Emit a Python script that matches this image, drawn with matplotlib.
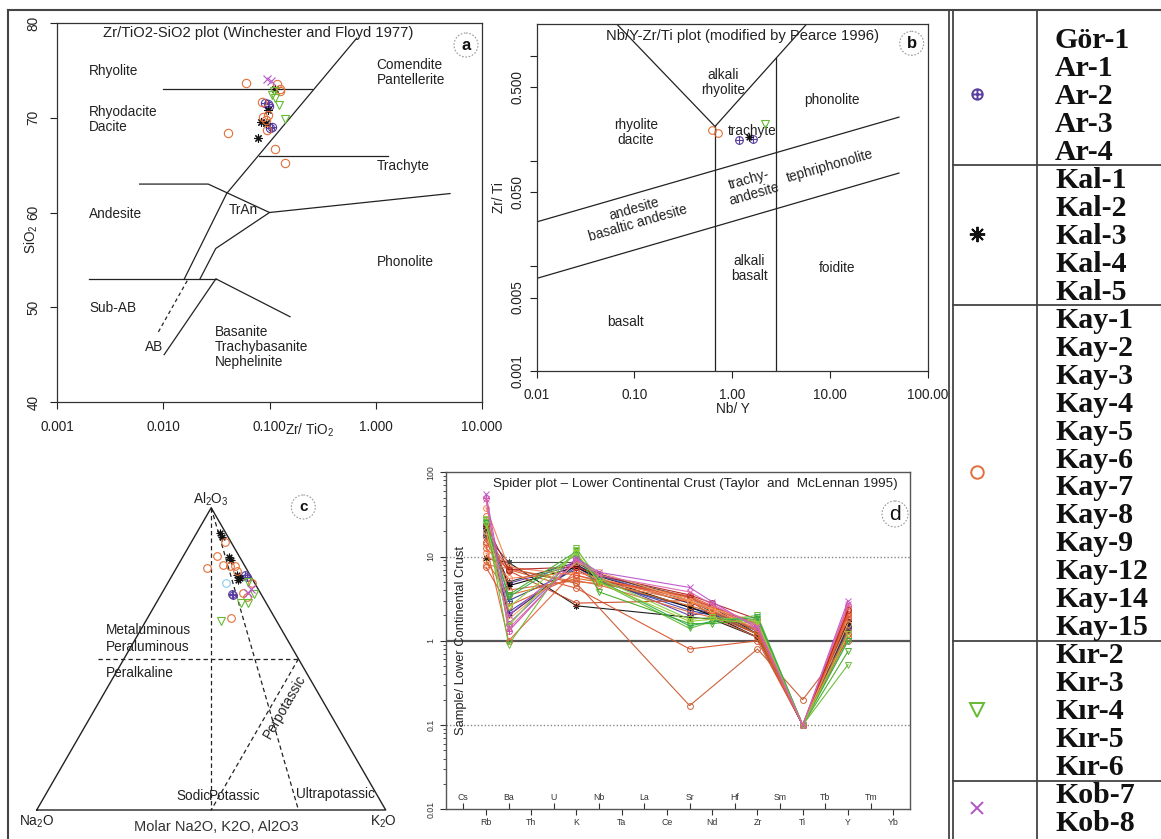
import numpy as np
import matplotlib
matplotlib.use('Agg')
import matplotlib.pyplot as plt
from matplotlib.path import Path
from matplotlib.patches import Circle
from matplotlib.ticker import LogLocator, NullFormatter, FixedLocator
import matplotlib.transforms as mtrans

plt.rcParams['font.family'] = ['Liberation Sans', 'DejaVu Sans']
plt.rcParams['mathtext.default'] = 'regular'

# ---------------- data ----------------
groups = ['Ar', 'Kal', 'Kay', 'Kir', 'Kob']
group_labels = {
    'Ar': ['Gör-1', 'Ar-1', 'Ar-2', 'Ar-3', 'Ar-4'],
    'Kal': ['Kal-1', 'Kal-2', 'Kal-3', 'Kal-4', 'Kal-5'],
    'Kay': ['Kay-1', 'Kay-2', 'Kay-3', 'Kay-4', 'Kay-5', 'Kay-6', 'Kay-7', 'Kay-8',
            'Kay-9', 'Kay-12', 'Kay-14', 'Kay-15'],
    'Kir': ['Kır-2', 'Kır-3', 'Kır-4', 'Kır-5', 'Kır-6'],
    'Kob': ['Kob-7', 'Kob-8'],
}

# Panel a : Zr/TiO2 vs SiO2
a_zrti = {
    'Ar': [0.0907, 0.0989, 0.101, 0.096, 0.105],
    'Kal': [0.1127, 0.0975, 0.0832, 0.0927, 0.0785],
    'Kay': [0.0597, 0.117, 0.1256, 0.0845, 0.0874, 0.0927, 0.094, 0.1127, 0.14, 0.0405, 0.097, 0.125],
    'Kir': [0.105, 0.1127, 0.1228, 0.14, 0.11],
    'Kob': [0.0953, 0.1026],
}
a_sio2 = {
    'Ar': [71.56, 71.2, 68.9, 71.4, 69.0],
    'Kal': [73.0, 70.8, 69.6, 69.4, 67.9],
    'Kay': [73.7, 73.6, 72.85, 71.7, 70.1, 69.76, 68.7, 66.7, 65.2, 68.4, 70.3, 73.0],
    'Kir': [72.4, 72.05, 71.35, 69.9, 72.8],
    'Kob': [74.06, 73.9],
}

# Panel b : Nb/Y vs Zr/Ti
b_nby = {'Ar': [1.64, 1.18], 'Kal': [1.47], 'Kay': [0.616, 0.72], 'Kir': [2.17], 'Kob': []}
b_zrti = {'Ar': [0.162, 0.158], 'Kal': [0.17], 'Kay': [0.197, 0.183], 'Kir': [0.225], 'Kob': []}

# Panel c : molar Na2O, K2O, Al2O3 (%)
c_na = {
    'Ar': [1.5, 1.0, 8.3, 8.2],
    'Kal': [1.7, 1.9, 2.9, 3.1, 3.9, 4.4, 3.4],
    'Kay': [1.6, 6.2, 6.1, 11.0, 2.9, 2.9, 4.3, 0.9, 4.9, 4.3, 12.6],
    'Kir': [2.1, 7.2, 5.2, 15.9, 1.8],
    'Kob': [2.2, 3.5],
}
c_k = {
    'Ar': [20.8, 21.8, 20.2, 20.7],
    'Kal': [6.7, 7.9, 13.3, 14.2, 18.4, 19.5, 20.0],
    'Kay': [9.6, 9.8, 12.8, 8.8, 16.4, 17.9, 15.0, 24.1, 23.4, 25.1, 24.0],
    'Kir': [26.4, 24.2, 26.4, 21.5, 22.6],
    'Kob': [24.8, 24.6],
}
c_al = {
    'Ar': [77.7, 77.2, 71.5, 71.1],
    'Kal': [91.6, 90.2, 83.8, 82.7, 77.7, 76.1, 76.6],
    'Kay': [88.8, 84.0, 81.1, 80.2, 80.7, 79.2, 80.7, 75.0, 71.7, 70.6, 63.4],
    'Kir': [71.5, 68.6, 68.4, 62.6, 75.5],
    'Kob': [73.0, 71.9],
}
c_extra = (8.4, 16.6, 75.0)   # light-blue circle

# Panel d : spider diagram (normalised to lower continental crust)
spider_order = ['Cs', 'Rb', 'Ba', 'Th', 'U', 'K', 'Nb', 'Ta', 'La', 'Ce', 'Sr', 'Nd',
                'Hf', 'Zr', 'Sm', 'Ti', 'Tb', 'Y', 'Tm', 'Yb']
spider_elems = ['Rb', 'Ba', 'K', 'Nb', 'Sr', 'Nd', 'Zr', 'Ti', 'Y']
nan = np.nan
spider_vals = {
    'Ar': [[20, 4.8, 8.0, 5.5, 2.0, 2.2, 1.3, 0.1, 1.5],
           [22, 2.2, 7.5, 5.2, 2.3, 2.0, 1.4, 0.1, 1.6],
           [25, 1.6, 9.0, 6.0, 2.8, 2.4, 1.6, 0.1, 1.8],
           [18, 3.0, 7.0, 5.0, 2.5, 2.1, 1.2, 0.1, 1.4],
           [50, 1.3, 9.5, 6.2, 3.0, 2.6, 1.5, 0.1, 2.6]],
    'Kal': [[9.5, 8.5, 2.6, nan, 1.9, 1.8, 1.1, 0.1, 1.7],
            [20, 5.0, 8.5, 6.0, 3.3, 2.3, 1.3, 0.1, 1.6],
            [22, 2.0, 8.0, 5.8, 2.8, 2.5, 1.2, 0.1, 1.5],
            [18, 8.5, 8.5, 6.2, 3.0, 2.2, 1.2, 0.1, 1.3],
            [23, 4.5, 7.5, 5.5, 2.5, 2.0, 1.1, 0.1, 1.7]],
    'Kay': [[8.0, 7.2, 5.0, 4.8, 3.0, 2.3, 1.3, 0.1, 2.2],
            [12.5, 7.0, 4.2, nan, 0.8, nan, 1.0, 0.1, 1.8],
            [38, 7.5, 6.0, 5.0, 3.2, 2.4, 1.5, 0.1, 2.0],
            [15, 6.8, 2.8, nan, 3.0, 2.0, 1.2, 0.1, 1.2],
            [14, 1.0, 7.0, 5.3, 3.4, 2.6, 1.3, 0.1, 1.9],
            [9, 3.5, 5.5, 5.0, 2.6, 2.2, 1.2, 0.1, 1.1],
            [11, 5.5, 6.5, 5.5, 2.9, 2.3, 1.4, 0.1, 2.4],
            [17, 7.2, 4.8, nan, 0.17, nan, 0.8, 0.2, 1.0],
            [7.5, 2.6, 6.0, 5.2, 3.3, 2.5, 1.6, 0.1, 2.1],
            [24, 7.0, 7.5, 6.0, 3.5, 2.8, 1.8, 0.1, 2.3],
            [20, 1.8, 8.5, 6.5, 3.0, 2.4, 1.7, 0.1, 1.6],
            [30, 4.0, 5.2, 4.6, 2.2, 1.9, 1.1, 0.1, 1.3]],
    'Kir': [[27, 0.9, 12.5, 5.0, 1.4, 1.7, 2.0, 0.1, 0.52],
            [26, 3.5, 11.5, 3.8, 1.6, 1.6, 1.8, 0.1, 0.75],
            [28, 1.5, 12.0, 5.5, 1.8, 1.9, 1.7, 0.1, 1.0],
            [25, 3.3, 10.5, 5.2, 1.5, 1.7, 1.9, 0.1, 1.0],
            [24, 2.5, 11.0, 4.9, 1.7, 1.8, 1.6, 0.1, 1.2]],
    'Kob': [[55, 2.0, 9.5, 6.5, 4.3, 2.9, 1.4, 0.1, 3.0],
            [48, 1.4, 9.0, 6.0, 3.8, 2.7, 1.5, 0.1, 2.7]],
}
spider_colors = {
    'Ar': ['#5B3FA0', '#3344AA', '#6A5ACD', '#2E3B8F', '#CC44AA'],
    'Kal': ['#111111', '#333333', '#222244', '#444444', '#000000'],
    'Kay': ['#E0703A', '#D9532B', '#F08050', '#CC4422', '#E8603A', '#D2691E',
            '#FF7F50', '#C85A30', '#E05030', '#B22222', '#F4A460', '#DD6644'],
    'Kir': ['#66BB33', '#44AA22', '#88CC44', '#33AA55', '#99CC33'],
    'Kob': ['#BB55CC', '#DD66AA'],
}

# ---------------- styles ----------------
oplus = Path.make_compound_path(Path.unit_circle(),
                                Path([[-1, 0], [1, 0]]), Path([[0, -1], [0, 1]]))
gstyle = {
    'Ar': dict(marker=oplus, color='#5B3FA0', tms=7.5),
    'Kal': dict(marker=(8, 2, 0), color='#111111', tms=11),
    'Kay': dict(marker='o', color='#E0703A', tms=9),
    'Kir': dict(marker='v', color='#66BB33', tms=9.5),
    'Kob': dict(marker='x', color='#B455C8', tms=8.5),
}

W, H = 1161, 839
fig = plt.figure(figsize=(W / 100, H / 100), dpi=100)


def px_axes(l, t, r, b, **kw):
    ax = fig.add_axes([l / W, 1 - b / H, (r - l) / W, (b - t) / H], **kw)
    ax.patch.set_alpha(0)
    return ax


def pts(ax, xs, ys, g, ms=6.0, mew=0.8):
    st = gstyle[g]
    ax.plot(xs, ys, ls='none', marker=st['marker'], ms=ms, mfc='none',
            mec=st['color'], mew=mew, zorder=5)


def style_axes(ax):
    for s in ax.spines.values():
        s.set_color('#333333')
        s.set_linewidth(0.9)


LINEC = '#222222'

# ---------------- panel a ----------------
ax_a = px_axes(57, 23, 482, 402)
ax_a.set_xscale('log')
ax_a.set_xlim(0.001, 10)
ax_a.set_ylim(40, 80)
style_axes(ax_a)
wf_lines = [
    ([0.01, 0.25], [73, 73]),
    ([0.0158, 0.0395, 0.662], [53, 62, 78.4]),
    ([0.002, 0.0313], [53, 53]),
    ([0.0102, 0.0313, 0.156], [45, 53, 49]),
    ([0.0222, 0.0312, 0.1], [53, 56.2, 60]),
    ([0.006, 0.0265, 0.1, 5.0], [63, 63, 60, 62]),
    ([0.08, 1.3], [66, 66]),
]
for xs, ys in wf_lines:
    ax_a.plot(xs, ys, color=LINEC, lw=0.9)
ax_a.plot([0.009, 0.0172], [47.4, 53], color=LINEC, lw=0.9, ls=(0, (3, 2.5)))
lab_fs = 9.8
for txt, x, y in [('Rhyolite', 0.002, 74.9), ('Rhyodacite\nDacite', 0.002, 69.8),
                  ('Comendite\nPantellerite', 1.02, 74.8), ('Trachyte', 1.03, 64.9),
                  ('Andesite', 0.002, 59.8), ('TrAn', 0.041, 60.3), ('Phonolite', 1.02, 54.8),
                  ('Sub-AB', 0.002, 49.9), ('AB', 0.0068, 45.8),
                  ('Basanite\nTrachybasanite\nNephelinite', 0.0303, 45.8)]:
    ax_a.text(x, y, txt, fontsize=lab_fs, ha='left', va='center', color='#222222',
              linespacing=1.1)
for g in groups:
    pts(ax_a, a_zrti[g], a_sio2[g], g)
ax_a.set_xticks([0.001, 0.01, 0.1, 1, 10])
ax_a.set_xticklabels(['0.001', '0.010', '0.100', '1.000', '10.000'])
ax_a.xaxis.set_minor_locator(FixedLocator([]))
ax_a.set_yticks([40, 50, 60, 70, 80])
ax_a.set_yticklabels(['40', '50', '60', '70', '80'], rotation=90, va='center')
ax_a.tick_params(axis='x', direction='out', length=5, width=0.8, labelsize=9.8, pad=8,
                 colors='#222222')
ax_a.tick_params(axis='y', direction='out', length=5, width=0.8, labelsize=9.8, pad=7,
                 colors='#222222')

# ---------------- panel b ----------------
ax_b = px_axes(536.7, 24, 927.7, 371)
ax_b.set_xscale('log')
ax_b.set_yscale('log')
ax_b.set_xlim(0.01, 100)
ax_b.set_ylim(0.001, 2.0)
style_axes(ax_b)
pearce_lines = [
    ([0.0658, 0.667, 5.78], [2.0, 0.212, 2.0]),
    ([0.667, 0.667], [0.212, 0.001]),
    ([2.8, 2.8], [0.94, 0.001]),
    ([0.01, 50.8], [0.0262, 0.26]),
    ([0.01, 50.8], [0.0076, 0.0764]),
]
for xs, ys in pearce_lines:
    ax_b.plot(xs, ys, color=LINEC, lw=0.9)
for txt, x, y, rot in [('alkali\nrhyolite', 0.81, 0.56, 0), ('phonolite', 10.4, 0.38, 0),
                       ('rhyolite\ndacite', 0.103, 0.187, 0), ('trachyte', 1.6, 0.19, 0),
                       ('trachy-\nandesite', 1.58, 0.056, 16),
                       ('tephriphonolite', 10.0, 0.09, 16),
                       ('andesite\nbasaltic andesite', 0.104, 0.0297, 16),
                       ('alkali\nbasalt', 1.5, 0.0094, 0), ('foidite', 11.7, 0.0095, 0),
                       ('basalt', 0.08, 0.0029, 0)]:
    ax_b.text(x, y, txt, fontsize=9.8, ha='center', va='center', rotation=rot,
              color='#222222', linespacing=1.1, rotation_mode='anchor')
for g in groups:
    pts(ax_b, b_nby[g], b_zrti[g], g, ms=5.5)
ax_b.set_xticks([0.01, 0.1, 1, 10, 100])
ax_b.set_xticklabels(['0.01', '0.10', '1.00', '10.00', '100.00'])
ax_b.xaxis.set_minor_locator(FixedLocator([]))
ax_b.set_yticks([0.001, 0.005, 0.01, 0.05, 0.1, 0.5, 1])
ax_b.set_yticklabels(['0.001', '0.005', '', '0.050', '', '0.500', ''], rotation=90, va='center')
ax_b.yaxis.set_minor_locator(FixedLocator([]))
ax_b.tick_params(axis='x', direction='out', length=5, width=0.8, labelsize=9.8, pad=7,
                 colors='#222222')
ax_b.tick_params(axis='y', direction='out', length=5, width=0.8, labelsize=9.8, pad=4,
                 colors='#222222')

# ---------------- panel c (ternary) ----------------
S3 = np.sqrt(3) / 2
ax_c = px_axes(36.7, 810 - 349 * S3, 385.7, 810)
ax_c.set_xlim(0, 1)
ax_c.set_ylim(0, S3)
ax_c.axis('off')


def tern(na, k, al):
    na, k, al = np.asarray(na, float), np.asarray(k, float), np.asarray(al, float)
    tot = na + k + al
    a = al / tot
    kk = k / tot
    return kk + a / 2, a * S3


tri = [(1, 0, 0), (0, 1, 0), (0, 0, 1), (1, 0, 0)]
tx, ty = tern(*zip(*tri))
ax_c.plot(tx, ty, color=LINEC, lw=1.0, clip_on=False)
for p0, p1 in [((0, 0, 1), (0.5, 0.5, 0)), ((0, 0, 1), (0.25, 0.75, 0)),
               ((0.575, -0.075, 0.5), (0, 0.5, 0.5)), ((0, 0.5, 0.5), (0.5, 0.5, 0))]:
    lx, ly = tern(*zip(p0, p1))
    ax_c.plot(lx, ly, color=LINEC, lw=0.9, ls=(0, (3.5, 2.5)), clip_on=False)
for g in groups:
    cx, cy = tern(c_na[g], c_k[g], c_al[g])
    pts(ax_c, cx, cy, g, ms=5.5)
ex, ey = tern(*c_extra)
ax_c.plot([ex], [ey], ls='none', marker='o', ms=5.5, mfc='none', mec='#88CCEE', mew=0.8)
tfs = 9.8
ax_c.text(0.1986, 0.516, 'Metaluminous', fontsize=tfs, ha='left', va='center', color='#222')
ax_c.text(0.1986, 0.468, 'Peraluminous', fontsize=tfs, ha='left', va='center', color='#222')
ax_c.text(0.1986, 0.392, 'Peralkaline', fontsize=tfs, ha='left', va='center', color='#222')
ax_c.text(0.71, 0.296, 'Perpotassic', fontsize=tfs, ha='center', va='center', rotation=60,
          color='#222')
ax_c.text(0.449, 0.040, 'Sodic', fontsize=tfs, ha='center', va='center', color='#222')
ax_c.text(0.566, 0.040, 'Potassic', fontsize=tfs, ha='center', va='center', color='#222')
ax_c.text(0.855, 0.046, 'Ultrapotassic', fontsize=tfs, ha='center', va='center', color='#222')
ax_c.text(0.4986, 0.89, 'Al$_2$O$_3$', fontsize=tfs, ha='center', va='center', color='#222',
          clip_on=False)
ax_c.text(0.0, -0.034, 'Na$_2$O', fontsize=tfs, ha='center', va='center', color='#222',
          clip_on=False)
ax_c.text(0.993, -0.034, 'K$_2$O', fontsize=tfs, ha='center', va='center', color='#222',
          clip_on=False)
ax_c.text(0.516, -0.048, 'Molar Na2O, K2O, Al2O3', fontsize=10.5, ha='center', va='center',
          color='#333', clip_on=False)

# ---------------- panel d (spider) ----------------
ax_d = px_axes(445.7, 472.3, 910, 809.3)
ax_d.set_yscale('log')
ax_d.set_ylim(0.01, 100)
ax_d.set_xlim(0.22, 20.74)
for s in ax_d.spines.values():
    s.set_color('#555555')
    s.set_linewidth(1.0)
ax_d.axhline(1, color='#555555', lw=1.6, zorder=1)
for yv in (10, 0.1):
    ax_d.axhline(yv, color='#888888', lw=1.0, ls=(0, (1, 1.5)), zorder=1)
elem_x = {e: i + 1 for i, e in enumerate(spider_order)}
xs_sp = np.array([elem_x[e] for e in spider_elems])
for g in groups:
    st = gstyle[g]
    for vals, col in zip(spider_vals[g], spider_colors[g]):
        v = np.array(vals, float)
        m = ~np.isnan(v)
        ax_d.plot(xs_sp[m], v[m], color=col, lw=0.8, marker=st['marker'], ms=4.2,
                  mfc='none', mec=col, mew=0.7, zorder=3, alpha=0.95)
bottom_idx = [elem_x[e] for e in spider_order[1::2]]
top_idx = [elem_x[e] for e in spider_order[0::2]]
ax_d.set_xticks(bottom_idx)
ax_d.set_xticklabels(spider_order[1::2])
ax_d.set_xticks(top_idx, minor=True)
ax_d.tick_params(axis='x', which='major', direction='out', length=4.5, width=0.8,
                 labelsize=6.3, pad=2, colors='#333333')
ax_d.tick_params(axis='x', which='minor', direction='in', length=4.5, width=0.8,
                 colors='#333333')
xtr = mtrans.blended_transform_factory(ax_d.transData, ax_d.transAxes)
for e in spider_order[0::2]:
    ax_d.text(elem_x[e], 0.036, e, transform=xtr, fontsize=6.3, ha='center', va='center',
              color='#333333')
ax_d.yaxis.set_major_locator(FixedLocator([0.01, 0.1, 1, 10, 100]))
ax_d.set_yticklabels(['0.01', '0.1', '1', '10', '100'], rotation=90, va='center')
ax_d.yaxis.set_minor_locator(LogLocator(base=10, subs=np.arange(2, 10), numticks=20))
ax_d.yaxis.set_minor_formatter(NullFormatter())
ax_d.tick_params(axis='y', which='major', direction='out', length=4.5, width=0.8,
                 labelsize=6.3, pad=3, colors='#333333')
ax_d.tick_params(axis='y', which='minor', direction='out', length=2.5, width=0.6,
                 colors='#333333')
ax_d.text(0.034, 0.5, 'Sample/ Lower Continental Crust', transform=ax_d.transAxes,
          rotation=90, fontsize=9.3, ha='center', va='center', color='#222222')

# ---------------- overlay (frames, titles, labels, table) ----------------
ov = fig.add_axes([0, 0, 1, 1], zorder=10)
ov.set_xlim(0, W)
ov.set_ylim(H, 0)
ov.axis('off')
ov.patch.set_alpha(0)

FR = '#444444'
ov.plot([8, 8], [10, H], color=FR, lw=1.5)
ov.plot([8, W], [10, 10], color=FR, lw=1.5)
ov.plot([949, 949], [10, H], color=FR, lw=1.3)
ov.plot([952.5, 952.5], [10, H], color=FR, lw=1.3)
ov.plot([1036.7, 1036.7], [10, H], color=FR, lw=1.3)

ov.text(258, 33, 'Zr/TiO2-SiO2 plot (Winchester and Floyd 1977)', fontsize=10.6,
        ha='center', va='center', color='#222222')
ov.text(742, 36, 'Nb/Y-Zr/Ti plot (modified by Pearce 1996)', fontsize=10.6,
        ha='center', va='center', color='#222222')
ov.text(695, 484, 'Spider plot \u2013 Lower Continental Crust (Taylor  and  McLennan 1995)',
        fontsize=9.6, ha='center', va='center', color='#222222')
ov.text(310, 430, 'Zr/ TiO$_2$', fontsize=9.8, ha='center', va='center', color='#222222')
ov.text(31.7, 239, 'SiO$_2$', fontsize=9.8, ha='center', va='center', rotation=90,
        color='#222222')
ov.text(733, 409, 'Nb/ Y', fontsize=9.8, ha='center', va='center', color='#222222')
ov.text(499.3, 198, 'Zr/ Ti', fontsize=9.8, ha='center', va='center', rotation=90,
        color='#222222')

for lab, cx, cy, r, bold, fs in [('a', 466, 45, 12, True, 12), ('b', 911.7, 43.3, 12, True, 12),
                                 ('c', 303.3, 507, 12, True, 11), ('d', 895, 514, 13, False, 15)]:
    ov.add_patch(Circle((cx, cy), r, fill=False, ec='#999999', lw=0.8, ls=(0, (1.5, 1.5))))
    ov.text(cx, cy, lab, fontsize=fs, ha='center', va='center',
            fontweight='bold' if bold else 'normal', color='#111111')

# legend table
row_step = 27.98
y0 = 38.3
k = 0
for gi, g in enumerate(groups):
    labs = group_labels[g]
    ys = [y0 + (k + i) * row_step for i in range(len(labs))]
    if gi > 0:
        yl = ys[0] - 13
        ov.plot([952.5, W], [yl, yl], color=FR, lw=1.3)
    for lab, y in zip(labs, ys):
        ov.text(1055, y + 9.5, lab, fontsize=21.5, fontweight='bold', ha='left',
                va='baseline', family=['Liberation Serif', 'DejaVu Serif'], color='#111111')
    st = gstyle[g]
    ov.plot([976.7], [np.mean(ys)], ls='none', marker=st['marker'], ms=st['tms'],
            mfc='none', mec=st['color'], mew=1.4)
    k += len(labs)

fig.savefig('out.png', dpi=100)
